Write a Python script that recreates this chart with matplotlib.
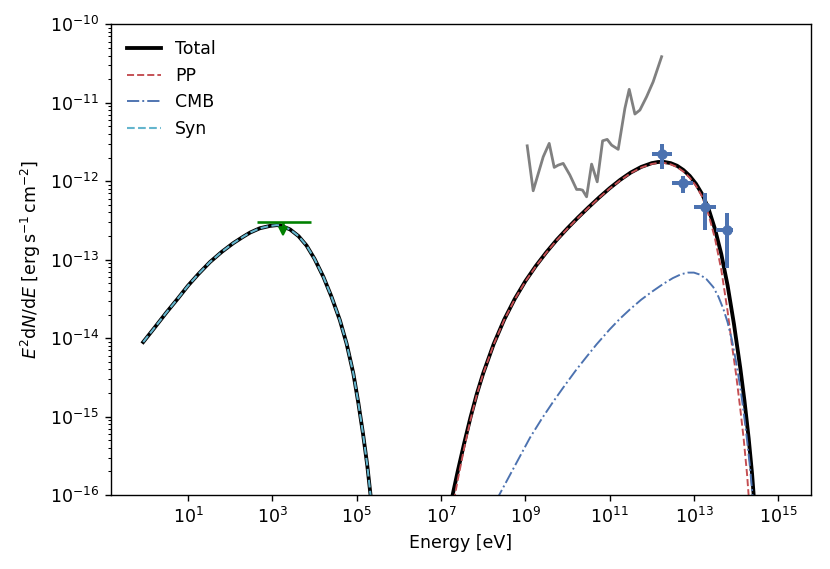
import numpy as np
import matplotlib
matplotlib.use("Agg")
import matplotlib.pyplot as plt
from matplotlib.ticker import NullLocator

# curves, stored as log10(E/eV) and log10(flux)
syn_logE = [-0.065, 0.2, 0.49, 0.75, 1.0, 1.25, 1.52, 1.8, 2.07, 2.3, 2.47,
            2.7, 2.94, 3.1, 3.2, 3.42, 3.62, 3.81, 4.0, 4.21, 4.4, 4.6, 4.76,
            4.92, 5.04, 5.15, 5.25, 5.33, 5.45]
syn_logF = [-14.05, -13.87, -13.67, -13.50, -13.33, -13.18, -13.03, -12.90,
            -12.79, -12.71, -12.655, -12.60, -12.57, -12.56, -12.565, -12.615,
            -12.70, -12.82, -12.99, -13.22, -13.47, -13.77, -14.07, -14.45,
            -14.83, -15.22, -15.62, -16.01, -16.65]

hi_logE = [7.15, 7.275, 7.4, 7.55, 7.7, 7.85, 8.0, 8.25, 8.5, 8.75, 9.0,
           9.25, 9.5, 9.75, 10.0, 10.25, 10.5, 10.75, 11.0, 11.25, 11.5, 11.75,
           12.0, 12.15, 12.3, 12.45, 12.6, 12.75, 12.9, 13.05, 13.2, 13.35,
           13.5, 13.65, 13.8, 13.95, 14.1, 14.2, 14.3, 14.38, 14.45, 14.5]
hi_logF = [-16.3, -16.0, -15.69, -15.34, -15.01, -14.71, -14.45, -14.075,
           -13.763, -13.5, -13.275, -13.08, -12.905, -12.745, -12.60, -12.463,
           -12.333, -12.208, -12.09, -11.983, -11.89, -11.818, -11.77, -11.755,
           -11.755, -11.77, -11.803, -11.857, -11.932, -12.034, -12.169,
           -12.356, -12.61, -12.93, -13.33, -13.82, -14.38, -14.80, -15.28,
           -15.73, -16.23, -16.7]

tot_logE = syn_logE + hi_logE
tot_logF = syn_logF + hi_logF

pp_logE = [7.28, 7.33, 7.4, 7.55, 7.7, 7.85, 8.0, 8.25, 8.5, 8.75, 9.0,
           9.25, 9.5, 9.75, 10.0, 10.25, 10.5, 10.75, 11.0, 11.25, 11.5, 11.75,
           12.0, 12.15, 12.3, 12.45, 12.6, 12.75, 12.9, 13.05, 13.2, 13.35,
           13.5, 13.65, 13.8, 13.9, 14.0, 14.1, 14.18, 14.26, 14.33, 14.38]
pp_logF = [-16.2, -16.0, -15.80, -15.40, -15.04, -14.72, -14.455, -14.08,
           -13.768, -13.505, -13.28, -13.085, -12.91, -12.75, -12.605, -12.468,
           -12.338, -12.213, -12.095, -11.99, -11.897, -11.826, -11.78,
           -11.767, -11.768, -11.785, -11.82, -11.877, -11.955, -12.06, -12.20,
           -12.43, -12.73, -13.13, -13.66, -14.08, -14.46, -14.90, -15.28,
           -15.73, -16.23, -16.7]

cmb_logE = [8.08, 8.38, 8.6, 8.85, 9.11, 9.4, 9.65, 9.9, 10.2, 10.45, 10.69,
            11.0, 11.25, 11.48, 11.75, 12.0, 12.27, 12.5, 12.7, 12.86, 13.0,
            13.14, 13.3, 13.46, 13.58, 13.7, 13.8, 13.9, 14.01, 14.1, 14.17,
            14.25, 14.33, 14.39, 14.44]
cmb_logF = [-16.3, -16.0, -15.78, -15.53, -15.27, -15.02, -14.82, -14.63,
            -14.41, -14.24, -14.08, -13.89, -13.75, -13.635, -13.51, -13.41,
            -13.31, -13.235, -13.185, -13.165, -13.165, -13.19, -13.25, -13.35,
            -13.47, -13.63, -13.80, -14.02, -14.33, -14.63, -14.90, -15.25,
            -15.64, -16.0, -16.4]

# sensitivity curve (grey)
sens_logE = [9.045, 9.187, 9.425, 9.567, 9.686, 9.781, 9.899, 10.058, 10.217,
             10.295, 10.359, 10.454, 10.573, 10.706, 10.834, 10.943, 11.047,
             11.204, 11.363, 11.465, 11.6, 11.719, 11.878, 12.034, 12.234]
sens_logF = [-11.549, -12.122, -11.689, -11.518, -11.824, -11.795, -11.773,
             -11.922, -12.105, -12.105, -12.114, -12.199, -11.782, -12.008,
             -11.485, -11.467, -11.54, -11.594, -11.071, -10.829, -11.144,
             -11.093, -10.923, -10.732, -10.413]

# data points
pts_E = [1.77e12, 5.37e12, 1.79e13, 6.17e13]
pts_Elo = [1.02e12, 3.09e12, 1.0e13, 3.31e13]
pts_Ehi = [3.09e12, 9.55e12, 3.31e13, 8.51e13]
pts_F = [2.20e-12, 9.38e-13, 4.71e-13, 2.38e-13]
pts_Flo = [1.43e-12, 7.11e-13, 2.38e-13, 7.94e-14]
pts_Fhi = [2.97e-12, 1.16e-12, 6.98e-13, 3.89e-13]

# X-ray upper limit
ul_E = 1.8e3
ul_Elo = 4.22e2
ul_Ehi = 8.05e3
ul_F = 2.98e-13

deep_red = "#C44E52"
deep_blue = "#4C72B0"
deep_cyan = "#64B5CD"

fig = plt.figure(figsize=(6.64, 4.552), dpi=125)
ax = fig.add_axes([0.1337, 0.130, 0.843, 0.8273])

p = lambda v: np.power(10.0, np.array(v))

ax.plot(p(tot_logE), p(tot_logF), color="black", lw=2.2, label="Total")
ax.plot(p(pp_logE), p(pp_logF), color=deep_red, lw=1.1, ls="--", label="PP")
ax.plot(p(cmb_logE), p(cmb_logF), color=deep_blue, lw=1.1, ls="-.", label="CMB")
ax.plot(p(syn_logE), p(syn_logF), color=deep_cyan, lw=1.2, ls="--", label="Syn")

ax.plot(p(sens_logE), p(sens_logF), color="grey", lw=1.6)

E = np.array(pts_E)
F = np.array(pts_F)
ax.errorbar(E, F,
            xerr=[E - np.array(pts_Elo), np.array(pts_Ehi) - E],
            yerr=[F - np.array(pts_Flo), np.array(pts_Fhi) - F],
            fmt="o", color=deep_blue, ms=5, elinewidth=2.3, capsize=0)

ax.errorbar([ul_E], [ul_F], xerr=[[ul_E - ul_Elo], [ul_Ehi - ul_E]],
            yerr=[[ul_F * 0.22], [0]], fmt="none", color="green", lw=1.5)
ax.plot([ul_E], [ul_F * 0.78], marker="v", color="green", ms=5, ls="none")

ax.set_xscale("log")
ax.set_yscale("log")
ax.set_xticks([10.0 ** k for k in range(1, 16, 2)])
ax.set_yticks([10.0 ** k for k in range(-16, -9)])
ax.xaxis.set_minor_locator(NullLocator())
ax.set_xlim(10 ** -0.83, 10 ** 15.77)
ax.set_ylim(1e-16, 1e-10)

ax.set_xlabel("Energy [eV]")
ax.set_ylabel(r"$E^2\mathrm{d}N/\mathrm{d}E$ [$\mathrm{erg\,s^{-1}\,cm^{-2}}$]")
ax.legend(loc="upper left", frameon=False)

fig.savefig("out.png", dpi=125)
